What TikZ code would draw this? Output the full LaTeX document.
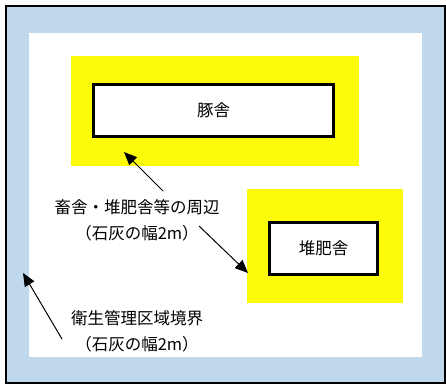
\documentclass[tikz,border=0pt]{standalone}
\usepackage{fontspec}
\setmainfont{Noto Sans CJK JP}
\usetikzlibrary{arrows.meta}
\definecolor{celeste}{RGB}{192,216,236}
\definecolor{amarillo}{RGB}{252,252,10}

\begin{document}
\begin{tikzpicture}[x=1pt, y=-1pt]
	
		\useasboundingbox (0,0) rectangle (446,384);
		\tikzset{zona/.style={rectangle, inner sep=0pt, outer sep=0pt},
			texto/.style={align=center, font=\fontsize{16.5}{26}\selectfont}}
		
		% Nodos
		\node[zona, draw, line width=1.2pt, fill=celeste, minimum width=439pt, minimum height=377pt] (limite) at (225.5,194.5) {};
		\node[zona, fill=white, minimum width=393pt, minimum height=324pt] (interior) at (225.5,195) {};
		
		\node[zona, fill=amarillo, minimum width=288pt, minimum height=110pt] (borde_cerdos) at (215,111) {};
		\node[zona, draw, line width=3pt, fill=white, minimum width=240pt, minimum height=52pt, font=\fontsize{16.5}{20}\selectfont] (cerdos) at (213.5,110.5) {豚舎};
		
		\node[zona, fill=amarillo, minimum width=156pt, minimum height=114pt] (borde_abono) at (325,246) {};
		\node[zona, draw, line width=3pt, fill=white, minimum width=108pt, minimum height=52pt, font=\fontsize{16.5}{20}\selectfont] (abono) at (323.5,248.5) {堆肥舎};
		
		\node[texto] (perimetro) at (137,220) {畜舎・堆肥舎等の周辺\\（石灰の幅2m）};
		\node[texto] (frontera) at (137,331.5) {衛生管理区域境界\\（石灰の幅2m）};
		
		\coordinate (p1) at (163,191);
		\coordinate (q1) at (124,152);
		\coordinate (p2) at (199,226);
		\coordinate (q2) at (248,273);
		\coordinate (p3) at (62,339);
		\coordinate (q3) at (23,273);
		
		% Flechas
		\draw[line width=1pt, -{Triangle[length=13pt, width=11pt]}] (p1) -- (q1);
		\draw[line width=1pt, -{Triangle[length=13pt, width=11pt]}] (p2) -- (q2);
		\draw[line width=1pt, -{Triangle[length=13pt, width=11pt]}] (p3) -- (q3);

	\end{tikzpicture}
\end{document}
